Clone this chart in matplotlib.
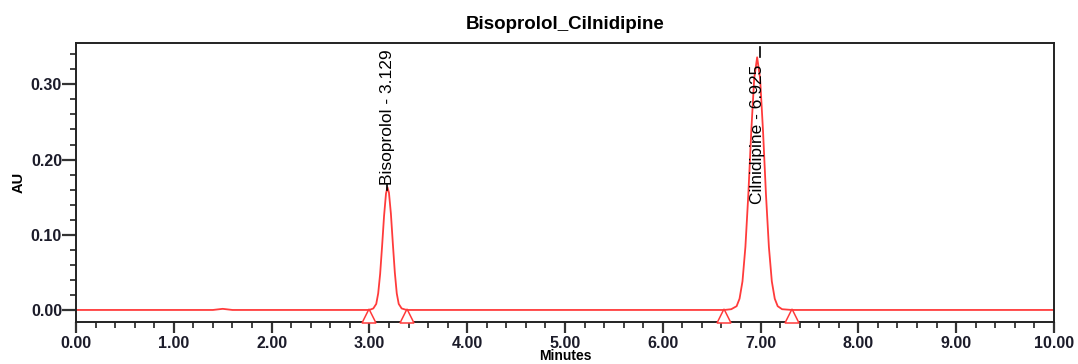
import matplotlib
matplotlib.use("Agg")
import matplotlib.pyplot as plt
from matplotlib.ticker import MultipleLocator
import numpy as np

# ---- data ----
title = "Bisoprolol_Cilnidipine"
x_label = "Minutes"
y_label = "AU"

baseline_time = [0.00, 1.40, 1.50, 1.60, 3.00]
baseline_au = [0.000, 0.000, 0.0015, 0.000, 0.000]

bis_time = [3.00, 3.04, 3.07, 3.09, 3.11, 3.13, 3.15, 3.17, 3.185, 3.20,
            3.22, 3.24, 3.26, 3.28, 3.30, 3.33, 3.38]
bis_au = [0.000, 0.002, 0.008, 0.022, 0.048, 0.085, 0.125, 0.155, 0.163, 0.156,
          0.128, 0.088, 0.050, 0.022, 0.008, 0.002, 0.000]

mid_time = [3.38, 6.63]
mid_au = [0.000, 0.000]

cil_time = [6.63, 6.70, 6.755, 6.785, 6.815, 6.845, 6.875, 6.905, 6.935, 6.965,
            6.995, 7.025, 7.055, 7.085, 7.115, 7.145, 7.175, 7.22, 7.32]
cil_au = [0.000, 0.001, 0.005, 0.015, 0.038, 0.084, 0.154, 0.238, 0.308, 0.336,
          0.308, 0.238, 0.154, 0.084, 0.038, 0.015, 0.005, 0.001, 0.000]

tail_time = [7.32, 10.00]
tail_au = [0.000, 0.000]

peak_names = ["Bisoprolol - 3.129", "Cilnidipine - 6.925"]
peak_apex_time = [3.185, 6.99]
peak_apex_au = [0.160, 0.336]
peak_tick_top = [0.166, 0.350]
peak_label_x = [3.19, 6.97]
peak_label_y = [0.166, 0.326]
peak_label_va = ["bottom", "top"]

integration_marks = [3.00, 3.38, 6.63, 7.32]

x_ticks = [0, 1, 2, 3, 4, 5, 6, 7, 8, 9, 10]
y_ticks = [0.00, 0.10, 0.20, 0.30]

# ---- drawing ----
plt.rcParams['font.family'] = ['Liberation Sans', 'DejaVu Sans']
fig = plt.figure(figsize=(10.78, 3.64), dpi=100)
ax = fig.add_axes([0.0705, 0.1154, 0.9072, 0.7665])

red = "#ff3b3b"
time = baseline_time + bis_time + mid_time + cil_time + tail_time
au = baseline_au + bis_au + mid_au + cil_au + tail_au
ax.plot(time, au, color=red, lw=1.3, solid_joinstyle='round')

# integration markers (open triangles below baseline)
ax.plot(integration_marks, [-0.0085] * len(integration_marks), linestyle='none',
        marker='^', markersize=9.5, markerfacecolor='white', markeredgecolor=red,
        markeredgewidth=1.1, clip_on=False, zorder=3)

for name, xt, ya, yt, lx, ly, va in zip(peak_names, peak_apex_time, peak_apex_au,
                                        peak_tick_top, peak_label_x, peak_label_y,
                                        peak_label_va):
    ax.plot([xt, xt], [ya, yt], color='black', lw=1.2)
    ax.text(lx, ly, name, rotation=90, ha='center', va=va, fontsize=12.5,
            color='black')

ax.set_xlim(0, 10)
ax.set_ylim(-0.016, 0.355)
ax.set_xticks(x_ticks)
ax.set_xticklabels([f"{v:.2f}" for v in x_ticks])
ax.set_yticks(y_ticks)
ax.set_yticklabels([f"{v:.2f}" for v in y_ticks])
ax.xaxis.set_minor_locator(MultipleLocator(0.2))
ax.yaxis.set_minor_locator(MultipleLocator(0.02))

tick_color = "#1c1c2a"
ax.tick_params(axis='both', which='major', direction='out', length=8, width=1.6,
               labelsize=11.5, colors='#333333', labelcolor=tick_color)
ax.tick_params(axis='both', which='minor', direction='out', length=4, width=1.3,
               colors='#333333')
ax.tick_params(axis='y', which='major', length=10, pad=0)
ax.tick_params(axis='x', which='major', pad=2)
for lbl in ax.get_xticklabels() + ax.get_yticklabels():
    lbl.set_fontweight('bold')

for s in ax.spines.values():
    s.set_linewidth(1.4)
    s.set_color('#222222')

ax.set_title(title, fontsize=13.5, fontweight='bold', pad=10)
ax.set_xlabel(x_label, fontsize=10, fontweight='bold')
ax.xaxis.set_label_coords(0.5, -0.098)
ax.set_ylabel(y_label, fontsize=10.5, fontweight='bold', labelpad=4)

fig.savefig("out.png", dpi=100)
